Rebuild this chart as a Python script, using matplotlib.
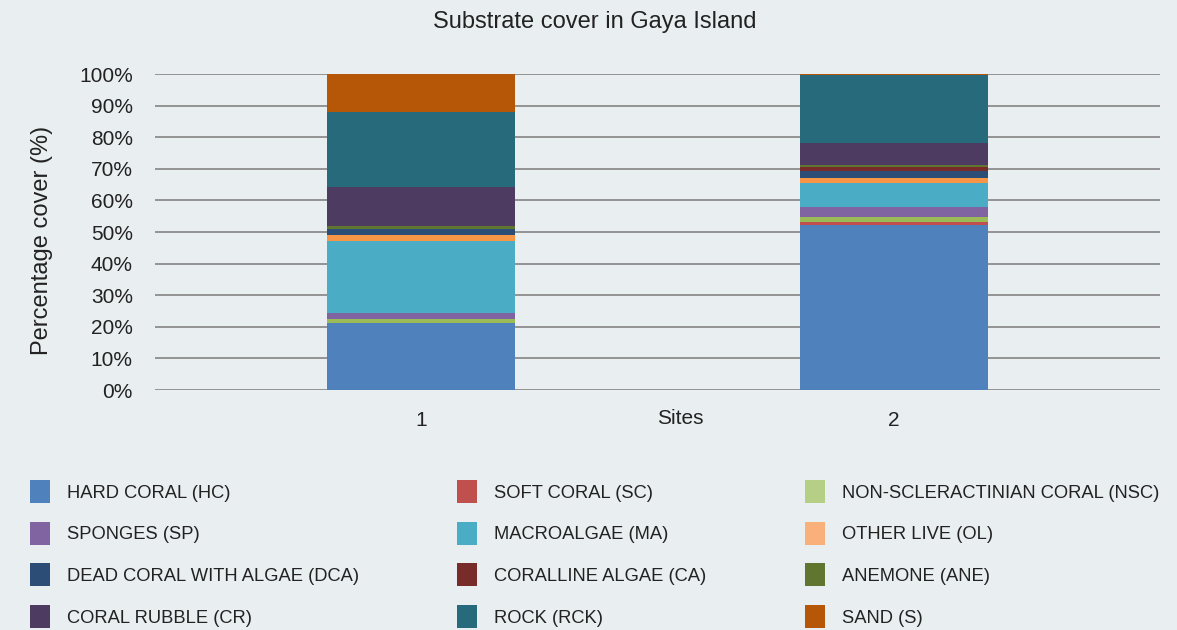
import matplotlib.pyplot as plt
from matplotlib.patches import Rectangle

plt.rcParams['font.family'] = ['Liberation Sans', 'DejaVu Sans']

sites = ['1', '2']
categories = ['HARD CORAL (HC)', 'SOFT CORAL (SC)', 'NON-SCLERACTINIAN CORAL (NSC)',
              'SPONGES (SP)', 'MACROALGAE (MA)', 'OTHER LIVE (OL)',
              'DEAD CORAL WITH ALGAE (DCA)', 'CORALLINE ALGAE (CA)', 'ANEMONE (ANE)',
              'CORAL RUBBLE (CR)', 'ROCK (RCK)', 'SAND (S)']
# percentage cover per category, [site 1, site 2]
cover = [
    [21.1, 52.1],   # HC
    [0.0, 1.2],     # SC
    [1.3, 1.3],     # NSC
    [1.9, 3.2],     # SP
    [22.8, 7.8],    # MA
    [1.8, 1.4],     # OL
    [1.9, 2.3],     # DCA
    [0.0, 1.2],     # CA
    [1.0, 0.6],     # ANE
    [12.4, 7.0],    # CR
    [23.7, 21.6],   # RCK
    [12.1, 0.3],    # S
]
colors = ['#4F81BD', '#C0504D', '#9BBB59', '#8064A2', '#4BACC6', '#F79646',
          '#2C4D75', '#772C2A', '#5F7530', '#4D3B62', '#276A7C', '#B65708']
legend_colors = ['#4F81BD', '#C0504D', '#B5CF86', '#8064A2', '#4BACC6', '#F9B07A',
                 '#2C4D75', '#772C2A', '#5F7530', '#4D3B62', '#276A7C', '#B65708']

bg = '#E9EEF1'
W, H = 1177, 630
fig = plt.figure(figsize=(W / 100, H / 100), dpi=100, facecolor=bg)
ax = fig.add_axes([155 / W, 1 - 390 / H, (1160 - 155) / W, (390 - 74) / H])
ax.set_facecolor(bg)

x = list(range(len(sites)))
bottom = [0.0] * len(sites)
for vals, c in zip(cover, colors):
    ax.bar(x, vals, width=0.397, bottom=bottom, color=c, zorder=3)
    bottom = [b + v for b, v in zip(bottom, vals)]

ax.set_xlim(-0.5625, 1.5625)
ax.set_ylim(0, 100)
ax.set_yticks(range(0, 101, 10))
ax.set_yticklabels([f'{v}%' for v in range(0, 101, 10)], fontsize=15, color='#222222')
ax.set_xticks(x)
ax.set_xticklabels(sites, fontsize=15, color='#222222')
ax.tick_params(axis='both', length=0)
ax.tick_params(axis='y', pad=16)
ax.tick_params(axis='x', pad=15)
ax.grid(axis='y', color='#8C8C8C', linewidth=1.3, zorder=0)
for s in ax.spines.values():
    s.set_visible(False)

fig.text(680 / W, 1 - 418 / H, 'Sites', fontsize=15, color='#222222', ha='center', va='center')
fig.text(42 / W, 1 - 240 / H, 'Percentage cover (%)', fontsize=17, color='#222222',
         ha='center', va='center', rotation=90)
fig.text(595 / W, 1 - 22 / H, 'Substrate cover in Gaya Island', fontsize=17,
         color='#222222', ha='center', va='center')

# legend laid out in three columns, filled row by row
col_x = [30, 457, 805]
for i, (name, c) in enumerate(zip(categories, legend_colors)):
    r, k = divmod(i, 3)
    yc = 492 + 41.7 * r
    fig.add_artist(Rectangle((col_x[k] / W, 1 - (yc + 11) / H), 20 / W, 23 / H,
                             transform=fig.transFigure, facecolor=c, edgecolor='none'))
    fig.text((col_x[k] + 37) / W, 1 - (yc + 1) / H, name, fontsize=13.2, color='#222222',
             ha='left', va='center')

fig.savefig('out.png', dpi=100, facecolor=bg)
